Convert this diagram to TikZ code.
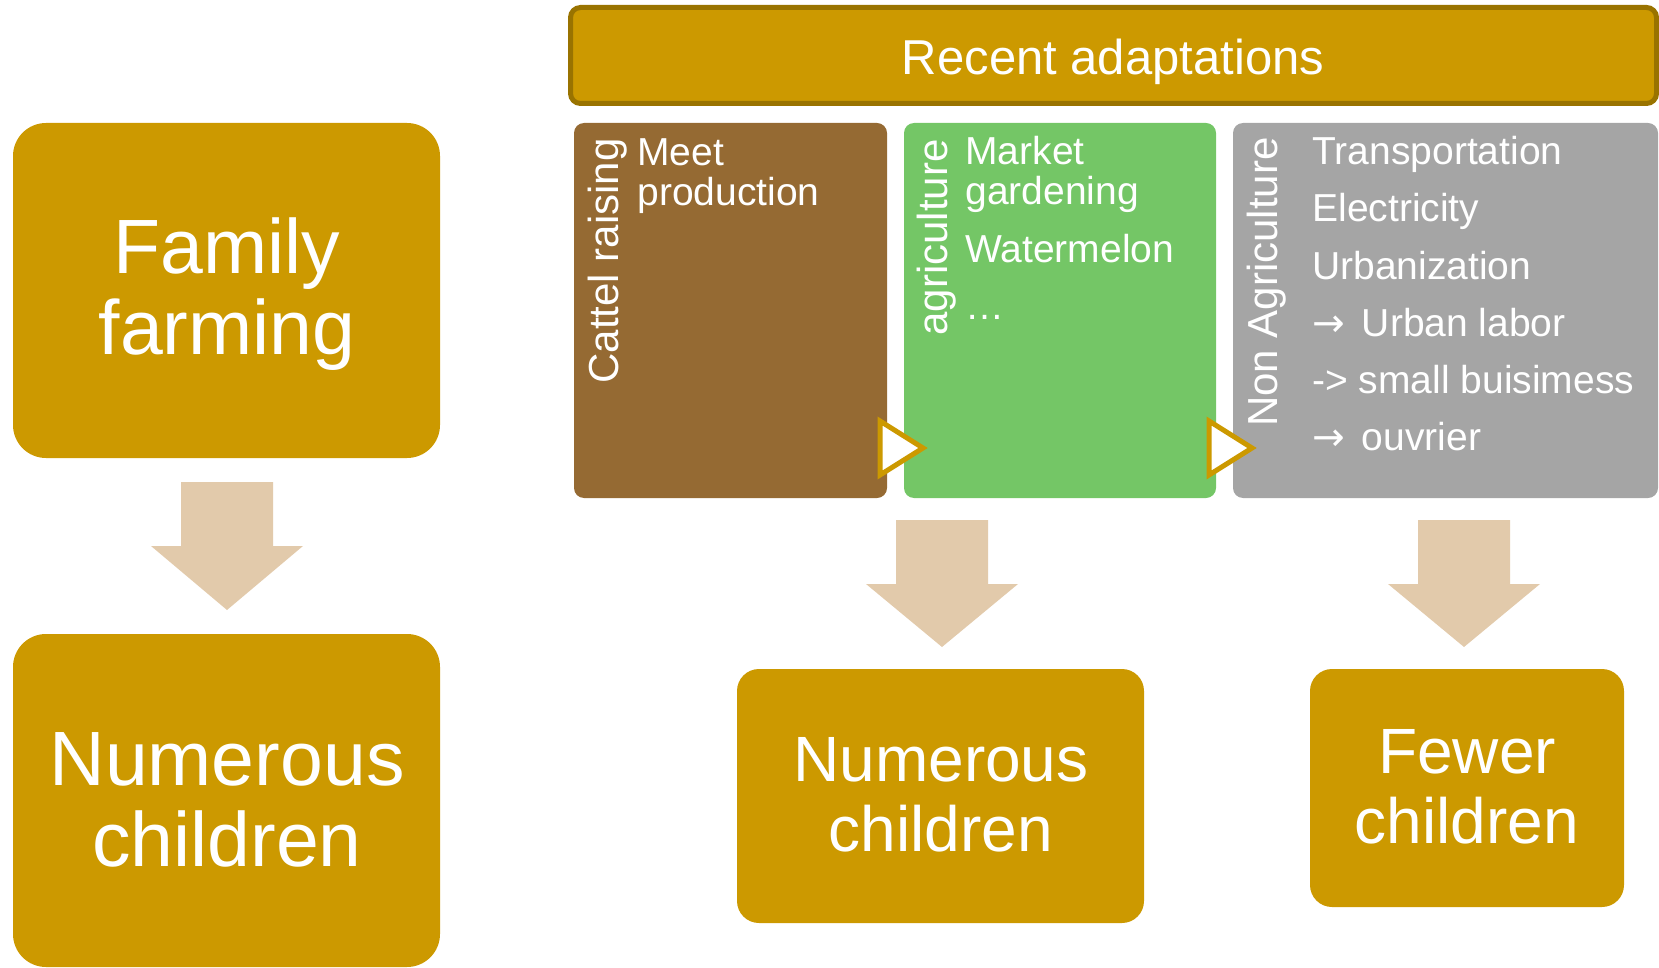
\documentclass[tikz,border=0pt]{standalone}
\usepackage{fontspec}
\setmainfont{Liberation Sans}
\newfontfamily\symfont{DejaVu Sans}
\usetikzlibrary{positioning}

\definecolor{gold}{HTML}{CC9900}
\definecolor{golddark}{HTML}{997300}
\definecolor{cattlebrown}{HTML}{956A33}
\definecolor{cropgreen}{HTML}{74C666}
\definecolor{nonagrigray}{HTML}{A5A5A5}
\definecolor{flowbeige}{HTML}{E2CAAB}

\begin{document}
\begin{tikzpicture}[x=0.5pt, y=-0.5pt,
		% Styles
		bigbox/.style={rectangle, fill=gold, rounded corners=16.5pt, minimum width=213.5pt, inner sep=0pt},
		smallbox/.style={rectangle, fill=gold, rounded corners=11pt, inner sep=0pt},
		headbar/.style={rectangle, fill=gold, draw=golddark, line width=2.5pt, rounded corners=5pt, minimum width=543pt, minimum height=48pt, inner sep=0pt},
		panel/.style={rectangle, rounded corners=5pt, minimum height=187.5pt, inner sep=0pt},
		bigtext/.style={text=white, font=\fontsize{38.5}{40.5}\selectfont, align=center, inner sep=0pt, anchor=base},
		midtext/.style={text=white, font=\fontsize{32}{34.75}\selectfont, align=center, inner sep=0pt, anchor=base},
		sidelabel/.style={text=white, font=\fontsize{21}{25}\selectfont, rotate=90, inner sep=0pt, anchor=base east},
		item/.style={text=white, font=\fontsize{19.5}{20.25}\selectfont, align=left, inner sep=0pt, anchor=base west},
		% Arrows
		blockarrow/.style={fill=flowbeige},
		flowtip/.style={fill=white, draw=gold, line width=2.5pt},
	]

	\useasboundingbox (0,0) rectangle (1659,968);

	% Left column (base = last line)
	\node[bigbox, minimum height=167.5pt] (family) at (226.5,290.5) {};
	\node[bigtext] (familytxt) at (227,354) {Family\\farming};

	\node[bigbox, minimum height=166.5pt] (numerousA) at (226.5,800.5) {};
	\node[bigtext] (numerousAtxt) at (227,866) {Numerous\\children};

	% Title bar
	\node[headbar] (recent) at (1113.5,55.5) {};
	\node[text=white, font=\fontsize{24.5}{28}\selectfont, inner sep=0pt, anchor=base] (recenttxt) at (1113,75) {Recent adaptations};

	% Panels
	\node[panel, fill=cattlebrown, minimum width=156.5pt] (cattle) at (730.5,310.5) {};
	\node[panel, fill=cropgreen, minimum width=156pt] (agri) at (1060,310.5) {};
	\node[panel, fill=nonagrigray, minimum width=212.5pt] (nonagri) at (1445.5,310.5) {};

	\node[sidelabel] (cattlelbl) at (618,138) {Cattel raising};
	\node[sidelabel] (agrilbl) at (947,139) {agriculture};
	\node[sidelabel] (nonagrilbl) at (1277,137) {Non Agriculture};

	% Panel items
	\node[item, font=\fontsize{19.5}{20.5}\selectfont] (meet) at (637,206) {Meet\\production};

	\node[item] (market) at (965,205) {Market\\gardening};
	\node[item] (melon) at (965,263) {Watermelon};
	\node[item] (etc) at (965,320) {…};

	\node[item] (transport) at (1312,165) {Transportation};
	\node[item] (electric) at (1312,222) {Electricity};
	\node[item] (urban) at (1312,279) {Urbanization};
	\node[item] (labor) at (1312,336) {{\symfont →}\hspace{3pt} Urban labor};
	\node[item] (business) at (1312,393) {-> small buisimess};
	\node[item] (ouvrier) at (1312,450) {{\symfont →}\hspace{3pt} ouvrier};

	% Panel to panel
	\draw[flowtip] (880,421) -- (880,475) -- (923,448) -- cycle;
	\draw[flowtip] (1209,421) -- (1209,475) -- (1252,448) -- cycle;

	% Outcomes
	\node[smallbox, minimum width=203.5pt, minimum height=127pt] (numerousB) at (940.5,796) {};
	\node[midtext] (numerousBtxt) at (941,851) {Numerous\\children};

	\node[smallbox, minimum width=157pt, minimum height=119pt] (fewer) at (1467,788) {};
	\node[midtext] (fewertxt) at (1467,843) {Fewer\\children};

	% Down arrows
	\coordinate (tipA) at (227,610);
	\coordinate (tipB) at (942,647);
	\coordinate (tipC) at (1464,647);
	\fill[blockarrow] (tipA) -- ++(-76,-64) -- ++(30,0) -- ++(0,-64) -- ++(92,0) -- ++(0,64) -- ++(30,0) -- cycle;
	\fill[blockarrow] (tipB) -- ++(-76,-63) -- ++(30,0) -- ++(0,-64) -- ++(92,0) -- ++(0,64) -- ++(30,0) -- cycle;
	\fill[blockarrow] (tipC) -- ++(-76,-63) -- ++(30,0) -- ++(0,-64) -- ++(92,0) -- ++(0,64) -- ++(30,0) -- cycle;

\end{tikzpicture}
\end{document}
